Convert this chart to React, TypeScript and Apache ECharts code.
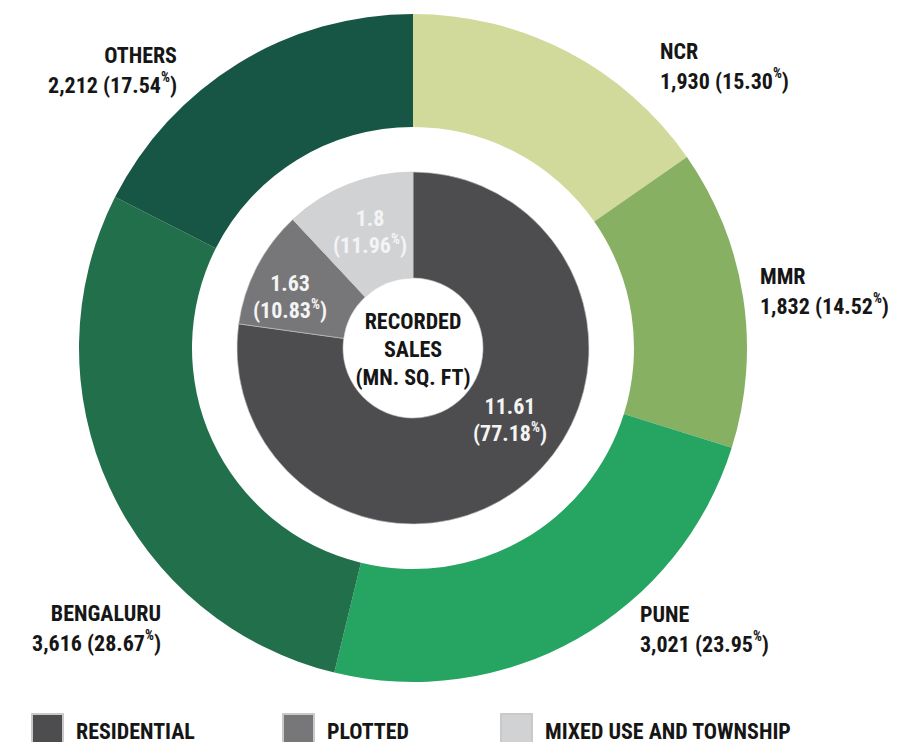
import React, { useEffect, useRef } from "react";
import * as echarts from "echarts";

const regions = ["NCR", "MMR", "PUNE", "BENGALURU", "OTHERS"];
const regionValues = [1930, 1832, 3021, 3616, 2212];
const regionPct = ["15.30", "14.52", "23.95", "28.67", "17.54"];
const regionColors = ["#d1d99b", "#87b063", "#26a462", "#21704b", "#175644"];

const types = ["RESIDENTIAL", "PLOTTED", "MIXED USE AND TOWNSHIP"];
const typeValues = [11.61, 1.63, 1.8];
const typeLabels = ["11.61", "1.63", "1.8"];
const typePct = ["77.18", "10.83", "11.96"];
const typeColors = ["#4d4d4f", "#77777a", "#d1d2d4"];

const centerLines = ["RECORDED", "SALES", "(MN. SQ. FT)"];

const FONT = '"Liberation Sans Narrow", "Roboto Condensed", "DejaVu Sans Condensed", "Noto Sans", sans-serif';

// label positions (layout, not data)
const outerLabelPos: [number, number, "left" | "right"][] = [
  [660, 66, "left"],
  [760, 291, "left"],
  [640, 629, "left"],
  [161, 628, "right"],
  [177, 70, "right"],
];
const innerLabelPos: [number, number][] = [
  [510, 420],
  [290, 297],
  [370, 232],
];
const legendLeft = [26, 277, 495];

export default function App() {
  const ref = useRef<HTMLDivElement>(null);
  useEffect(() => {
    if (!ref.current) return;
    const chart = echarts.init(ref.current, null, { renderer: "svg" });
    const cx = 413;
    const cy = 348;
    chart.setOption({
      animation: false,
      backgroundColor: "#ffffff",
      legend: types.map((t, i) => ({
        data: [t],
        left: legendLeft[i],
        top: 708,
        orient: "horizontal",
        icon: "rect",
        itemWidth: 31,
        itemHeight: 34,
        selectedMode: false,
        textStyle: {
          fontFamily: FONT,
          fontSize: 22,
          fontWeight: "bold",
          color: "#161616",
          padding: [0, 0, 0, 8],
        },
      })),
      graphic: [
        {
          type: "text",
          x: cx,
          y: cy + 1,
          style: {
            text: centerLines.join("\n"),
            fill: "#161616",
            font: `bold 22px ${FONT}`,
            lineHeight: 28,
            align: "center",
            verticalAlign: "middle",
          },
        },
      ],
      series: [
        {
          type: "pie",
          center: [cx, cy],
          radius: [221, 334],
          startAngle: 90,
          clockwise: true,
          silent: true,
          itemStyle: { borderWidth: 0 },
          labelLine: { show: false },
          label: {
            show: true,
            position: "inside",
            overflow: "none",
            formatter: (p: any) =>
              `{n|${regions[p.dataIndex]}}\n{v|${regionValues[p.dataIndex].toLocaleString("en-US")} (${regionPct[p.dataIndex]}}{p|%}{v|)}`,
            rich: {
              n: { fontFamily: FONT, fontSize: 22, fontWeight: "bold", color: "#161616", lineHeight: 30 },
              v: { fontFamily: FONT, fontSize: 22, fontWeight: "bold", color: "#161616", lineHeight: 30 },
              p: { fontFamily: FONT, fontSize: 14, fontWeight: "bold", color: "#161616", lineHeight: 25, verticalAlign: "top" },
            },
          },
          labelLayout: (params: any) => {
            const pos = outerLabelPos[params.dataIndex];
            return { x: pos[0], y: pos[1], align: pos[2], verticalAlign: "middle" };
          },
          data: regions.map((r, i) => ({
            name: r,
            value: regionValues[i],
            itemStyle: { color: regionColors[i] },
          })),
        },
        {
          type: "pie",
          center: [cx, cy],
          radius: [70, 176],
          startAngle: 90,
          clockwise: true,
          silent: true,
          itemStyle: { borderWidth: 0.6, borderColor: "#c9c9c9" },
          labelLine: { show: false },
          label: {
            show: true,
            position: "inside",
            overflow: "none",
            formatter: (p: any) =>
              `{v|${typeLabels[p.dataIndex]}}\n{v|(${typePct[p.dataIndex]}}{p|%}{v|)}`,
            rich: {
              v: { fontFamily: FONT, fontSize: 22, fontWeight: "bold", color: "#f4f4f4", lineHeight: 27 },
              p: { fontFamily: FONT, fontSize: 14, fontWeight: "bold", color: "#f4f4f4", lineHeight: 22, verticalAlign: "top" },
            },
          },
          labelLayout: (params: any) => {
            const pos = innerLabelPos[params.dataIndex];
            return { x: pos[0], y: pos[1], align: "center", verticalAlign: "middle" };
          },
          data: types.map((t, i) => ({
            name: t,
            value: typeValues[i],
            itemStyle: { color: typeColors[i] },
          })),
        },
      ],
    });
    return () => chart.dispose();
  }, []);
  return (
    <div
      ref={ref}
      style={{ position: "fixed", left: 0, top: 0, width: 907, height: 742, background: "#fff" }}
    />
  );
}
